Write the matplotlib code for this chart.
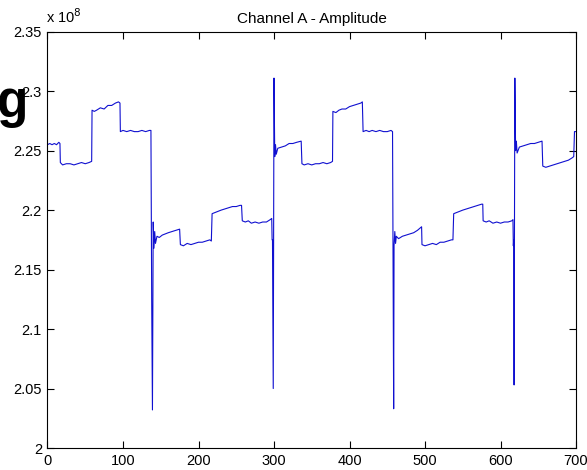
import matplotlib
matplotlib.use("Agg")
import matplotlib.pyplot as plt
import numpy as np

plt.rcParams['font.family'] = ['Liberation Sans', 'DejaVu Sans']

# sample index and amplitude (units of 1e8)
sample = [
    0, 3, 6, 9, 12, 15, 16.5,
    17, 20, 25, 30, 35, 40, 45, 50, 55, 58.5,
    59, 62, 65, 70, 75, 80, 85, 90, 94, 96,
    96.5, 100, 105, 110, 115, 120, 125, 130, 135, 137,
    138, 139, 140, 141, 142, 143, 145, 148, 152, 156, 160, 165, 170, 175,
    176, 180, 185, 190, 195, 200, 205, 210, 215, 217,
    218, 222, 226, 230, 235, 240, 245, 250, 255, 257,
    258, 262, 266, 270, 275, 280, 285, 290, 295, 297,
    297.5, 298, 299, 300, 301, 302, 303, 305, 310, 315, 320, 325, 330, 336,
    337, 340, 345, 350, 355, 360, 365, 370, 375, 377.5,
    378, 382, 386, 390, 395, 400, 405, 410, 415, 417,
    418, 422, 426, 430, 435, 440, 445, 450, 455, 457,
    458, 458.5, 459, 460, 461, 462, 465, 470, 475, 480, 485, 490, 495.5,
    496, 500, 505, 510, 515, 520, 525, 530, 535, 537,
    538, 542, 546, 550, 555, 560, 565, 570, 575, 576.5,
    577, 581, 585, 590, 595, 600, 605, 610, 615, 616.5,
    617, 617.5, 618, 619, 620, 621, 622, 625, 630, 635, 640, 645, 650, 655,
    656, 660, 665, 670, 675, 680, 685, 690, 695, 697,
    698, 700,
]
amplitude = [
    2.255, 2.256, 2.255, 2.256, 2.255, 2.257, 2.256,
    2.240, 2.238, 2.239, 2.239, 2.238, 2.239, 2.240, 2.239, 2.240, 2.241,
    2.284, 2.283, 2.284, 2.286, 2.285, 2.288, 2.288, 2.290, 2.291, 2.290,
    2.266, 2.267, 2.266, 2.267, 2.266, 2.266, 2.267, 2.266, 2.267, 2.267,
    2.125, 2.032, 2.190, 2.168, 2.182, 2.172, 2.178, 2.177, 2.179, 2.180, 2.181, 2.182, 2.183, 2.184,
    2.171, 2.170, 2.172, 2.171, 2.172, 2.173, 2.173, 2.174, 2.175, 2.174,
    2.197, 2.198, 2.199, 2.200, 2.201, 2.202, 2.203, 2.203, 2.204, 2.204,
    2.191, 2.190, 2.191, 2.189, 2.190, 2.189, 2.190, 2.190, 2.192, 2.193,
    2.175, 2.175, 2.050, 2.311, 2.245, 2.255, 2.247, 2.252, 2.253, 2.254, 2.256, 2.256, 2.257, 2.258,
    2.239, 2.238, 2.239, 2.238, 2.239, 2.239, 2.240, 2.239, 2.240, 2.241,
    2.283, 2.282, 2.284, 2.285, 2.285, 2.287, 2.288, 2.289, 2.290, 2.291,
    2.266, 2.267, 2.266, 2.267, 2.266, 2.267, 2.266, 2.266, 2.267, 2.266,
    2.110, 2.033, 2.170, 2.182, 2.172, 2.178, 2.176, 2.178, 2.179, 2.180, 2.181, 2.183, 2.186,
    2.171, 2.170, 2.171, 2.172, 2.171, 2.173, 2.173, 2.174, 2.175, 2.175,
    2.197, 2.198, 2.199, 2.200, 2.201, 2.202, 2.203, 2.204, 2.205, 2.205,
    2.191, 2.190, 2.191, 2.189, 2.190, 2.189, 2.190, 2.190, 2.191, 2.192,
    2.170, 2.175, 2.053, 2.311, 2.250, 2.258, 2.248, 2.253, 2.254, 2.255, 2.256, 2.256, 2.257, 2.258,
    2.237, 2.236, 2.237, 2.238, 2.239, 2.240, 2.241, 2.242, 2.244, 2.245,
    2.266, 2.266,
]

x_ticks = [0, 100, 200, 300, 400, 500, 600, 700]
y_ticks = [2, 2.05, 2.1, 2.15, 2.2, 2.25, 2.3, 2.35]
y_tick_labels = ['2', '2.05', '2.1', '2.15', '2.2', '2.25', '2.3', '2.35']

fig = plt.figure(figsize=(5.87, 4.70), dpi=100)
ax = fig.add_axes([47.5 / 587, 22 / 470, (576 - 47.5) / 587, (448 - 31.7) / 470])

ax.plot(sample, amplitude, color='#1010d0', linewidth=0.8)

ax.set_xlim(0, 700)
ax.set_ylim(2, 2.35)
ax.set_xticks(x_ticks)
ax.set_yticks(y_ticks)
ax.set_yticklabels(y_tick_labels)
ax.tick_params(direction='in', length=5, width=0.8, labelsize=10.5,
               top=True, right=True, pad=4)
for s in ax.spines.values():
    s.set_linewidth(0.8)

ax.set_title('Channel A - Amplitude', fontsize=11, pad=6)
fig.text(46 / 587, 1 - 23 / 470, r'x 10$^{8}$', fontsize=10.5, ha='left', va='baseline')

# leftover letter from the slide this was cropped out of
fig.text(-3 / 587, 1 - 117 / 470, 'g', fontsize=37, fontweight='bold',
         ha='left', va='baseline', zorder=5)

fig.savefig('out.png', dpi=100)
